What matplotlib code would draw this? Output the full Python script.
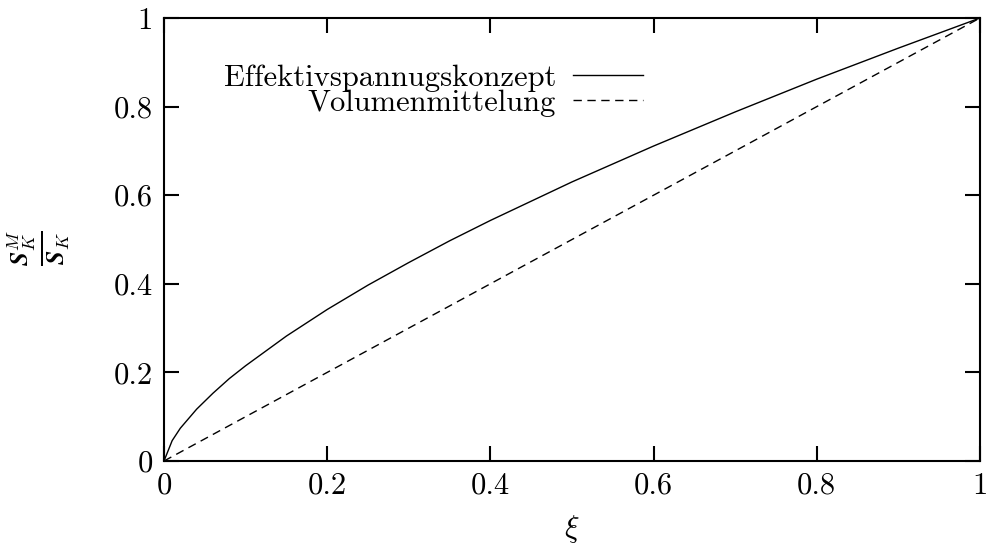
import matplotlib
matplotlib.use("Agg")
import matplotlib.pyplot as plt
from matplotlib.ticker import FuncFormatter

plt.rcParams['font.family'] = 'serif'
plt.rcParams['font.serif'] = ['cmr10']
plt.rcParams['mathtext.fontset'] = 'cm'
plt.rcParams['axes.formatter.use_mathtext'] = True
plt.rcParams['font.size'] = 22

xi_eff = [0, 0.01, 0.02, 0.04, 0.06, 0.08, 0.1, 0.15, 0.2, 0.25, 0.3,
          0.35, 0.4, 0.5, 0.6, 0.7, 0.8, 0.9, 1.0]
s_eff = [0, 0.046, 0.074, 0.117, 0.153, 0.186, 0.215, 0.282, 0.342, 0.397,
         0.448, 0.497, 0.543, 0.630, 0.711, 0.788, 0.862, 0.932, 1.0]

# Volumenmittelung
xi_vol = [0, 1]
s_vol = [0, 1]

ticks = [0, 0.2, 0.4, 0.6, 0.8, 1]


def fmt(v, pos):
    return ('%g' % round(v, 3))


fig = plt.figure(figsize=(9.92, 5.45), dpi=100)
ax = fig.add_axes([164 / 992, 1 - 461 / 545, 816 / 992, 443 / 545])

ax.plot(xi_eff, s_eff, color='black', lw=1.0, label='Effektivspannugskonzept')
ax.plot(xi_vol, s_vol, color='black', lw=1.0, dashes=(6, 4), label='Volumenmittelung')

ax.set_xlim(0, 1)
ax.set_ylim(0, 1)
ax.set_xticks(ticks)
ax.set_yticks(ticks)
ax.xaxis.set_major_formatter(FuncFormatter(fmt))
ax.yaxis.set_major_formatter(FuncFormatter(fmt))
ax.tick_params(direction='in', length=11, width=1.5, top=True, right=True,
               labelsize=22, pad=8)
for s in ax.spines.values():
    s.set_linewidth(1.5)

ax.set_xlabel(r'$\xi$', fontsize=22, labelpad=10)
ax.set_ylabel(r'$\frac{\boldsymbol{S}_K^M}{\boldsymbol{S}_K}$', fontsize=26)
ax.yaxis.set_label_coords(-0.113, 0.48)

ax.legend(loc='upper right', bbox_to_anchor=(0.587, 0.896), frameon=False,
          markerfirst=False, handlelength=2.3, handletextpad=0.55,
          labelspacing=-0.08, borderpad=0, borderaxespad=0, fontsize=22)

fig.savefig('out.png', dpi=100)
